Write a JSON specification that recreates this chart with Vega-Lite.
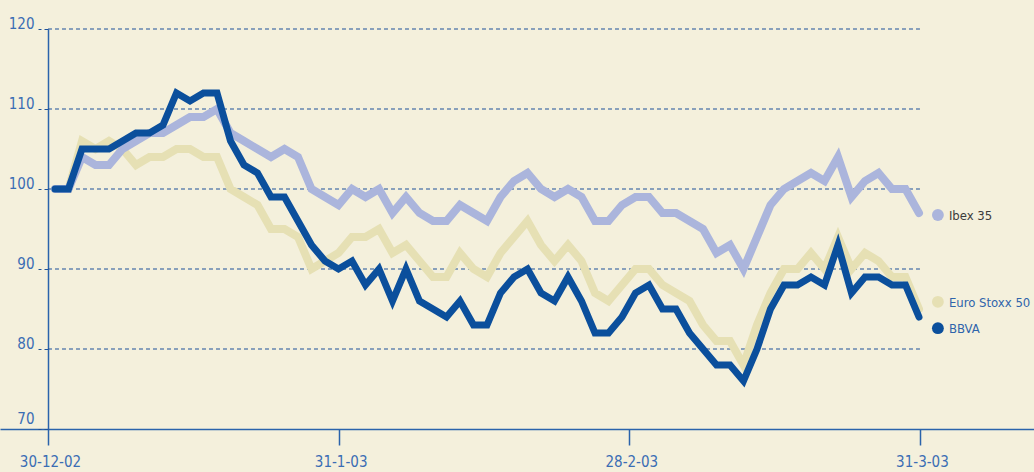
{
  "$schema": "https://vega.github.io/schema/vega-lite/v6.json",
  "width": 1034,
  "height": 400,
  "autosize": {"type": "none"},
  "padding": {"left": 0, "top": 29, "right": 0, "bottom": 43},
  "background": "#f4f0dc",
  "config": {"view": {"stroke": null}, "font": "DejaVu Sans Condensed, sans-serif"},
  "datasets": {
    "series": [
      {"i": 0, "ibex": 100, "euro": 100, "bbva": 100},
      {"i": 1, "ibex": 100, "euro": 100, "bbva": 100},
      {"i": 2, "ibex": 104, "euro": 106, "bbva": 105},
      {"i": 3, "ibex": 103, "euro": 105, "bbva": 105},
      {"i": 4, "ibex": 103, "euro": 106, "bbva": 105},
      {"i": 5, "ibex": 105, "euro": 105, "bbva": 106},
      {"i": 6, "ibex": 106, "euro": 103, "bbva": 107},
      {"i": 7, "ibex": 107, "euro": 104, "bbva": 107},
      {"i": 8, "ibex": 107, "euro": 104, "bbva": 108},
      {"i": 9, "ibex": 108, "euro": 105, "bbva": 112},
      {"i": 10, "ibex": 109, "euro": 105, "bbva": 111},
      {"i": 11, "ibex": 109, "euro": 104, "bbva": 112},
      {"i": 12, "ibex": 110, "euro": 104, "bbva": 112},
      {"i": 13, "ibex": 107, "euro": 100, "bbva": 106},
      {"i": 14, "ibex": 106, "euro": 99, "bbva": 103},
      {"i": 15, "ibex": 105, "euro": 98, "bbva": 102},
      {"i": 16, "ibex": 104, "euro": 95, "bbva": 99},
      {"i": 17, "ibex": 105, "euro": 95, "bbva": 99},
      {"i": 18, "ibex": 104, "euro": 94, "bbva": 96},
      {"i": 19, "ibex": 100, "euro": 90, "bbva": 93},
      {"i": 20, "ibex": 99, "euro": 91, "bbva": 91},
      {"i": 21, "ibex": 98, "euro": 92, "bbva": 90},
      {"i": 22, "ibex": 100, "euro": 94, "bbva": 91},
      {"i": 23, "ibex": 99, "euro": 94, "bbva": 88},
      {"i": 24, "ibex": 100, "euro": 95, "bbva": 90},
      {"i": 25, "ibex": 97, "euro": 92, "bbva": 86},
      {"i": 26, "ibex": 99, "euro": 93, "bbva": 90},
      {"i": 27, "ibex": 97, "euro": 91, "bbva": 86},
      {"i": 28, "ibex": 96, "euro": 89, "bbva": 85},
      {"i": 29, "ibex": 96, "euro": 89, "bbva": 84},
      {"i": 30, "ibex": 98, "euro": 92, "bbva": 86},
      {"i": 31, "ibex": 97, "euro": 90, "bbva": 83},
      {"i": 32, "ibex": 96, "euro": 89, "bbva": 83},
      {"i": 33, "ibex": 99, "euro": 92, "bbva": 87},
      {"i": 34, "ibex": 101, "euro": 94, "bbva": 89},
      {"i": 35, "ibex": 102, "euro": 96, "bbva": 90},
      {"i": 36, "ibex": 100, "euro": 93, "bbva": 87},
      {"i": 37, "ibex": 99, "euro": 91, "bbva": 86},
      {"i": 38, "ibex": 100, "euro": 93, "bbva": 89},
      {"i": 39, "ibex": 99, "euro": 91, "bbva": 86},
      {"i": 40, "ibex": 96, "euro": 87, "bbva": 82},
      {"i": 41, "ibex": 96, "euro": 86, "bbva": 82},
      {"i": 42, "ibex": 98, "euro": 88, "bbva": 84},
      {"i": 43, "ibex": 99, "euro": 90, "bbva": 87},
      {"i": 44, "ibex": 99, "euro": 90, "bbva": 88},
      {"i": 45, "ibex": 97, "euro": 88, "bbva": 85},
      {"i": 46, "ibex": 97, "euro": 87, "bbva": 85},
      {"i": 47, "ibex": 96, "euro": 86, "bbva": 82},
      {"i": 48, "ibex": 95, "euro": 83, "bbva": 80},
      {"i": 49, "ibex": 92, "euro": 81, "bbva": 78},
      {"i": 50, "ibex": 93, "euro": 81, "bbva": 78},
      {"i": 51, "ibex": 90, "euro": 78, "bbva": 76},
      {"i": 52, "ibex": 94, "euro": 83, "bbva": 80},
      {"i": 53, "ibex": 98, "euro": 87, "bbva": 85},
      {"i": 54, "ibex": 100, "euro": 90, "bbva": 88},
      {"i": 55, "ibex": 101, "euro": 90, "bbva": 88},
      {"i": 56, "ibex": 102, "euro": 92, "bbva": 89},
      {"i": 57, "ibex": 101, "euro": 90, "bbva": 88},
      {"i": 58, "ibex": 104, "euro": 94, "bbva": 93},
      {"i": 59, "ibex": 99, "euro": 90, "bbva": 87},
      {"i": 60, "ibex": 101, "euro": 92, "bbva": 89},
      {"i": 61, "ibex": 102, "euro": 91, "bbva": 89},
      {"i": 62, "ibex": 100, "euro": 89, "bbva": 88},
      {"i": 63, "ibex": 100, "euro": 89, "bbva": 88},
      {"i": 64, "ibex": 97, "euro": 85, "bbva": 84}
    ],
    "grid": [{"v": 80}, {"v": 90}, {"v": 100}, {"v": 110}, {"v": 120}],
    "labels": [
      {"series": "ibex", "name": "Ibex 35", "pos": 96.75},
      {"series": "euro", "name": "Euro Stoxx 50", "pos": 85.9},
      {"series": "bbva", "name": "BBVA", "pos": 82.6}
    ]
  },
  "layer": [
    {
      "data": {"name": "grid"},
      "mark": {"type": "rule", "color": "#1d5199", "strokeDash": [4, 3], "strokeWidth": 1.1},
      "encoding": {
        "x": {
          "datum": -0.52, "type": "quantitative",
          "scale": {"domain": [-4.074, 72.519], "nice": false, "zero": false},
          "axis": {
            "values": [-0.52, 21.01, 42.54, 64.07],
            "labelExpr": "datum.value < 10 ? '30-12-02' : datum.value < 30 ? '31-1-03' : datum.value < 50 ? '28-2-03' : '31-3-03'",
            "domainColor": "#2a63ab", "domainWidth": 1.5,
            "tickColor": "#2a63ab", "tickWidth": 1.5, "tickSize": 16,
            "labelColor": "#3a6db4", "labelFontSize": 15, "labelPadding": 9, "labelOffset": 2,
            "labelFlush": false, "labelOverlap": false, "grid": false, "title": null
          }
        },
        "x2": {"datum": 64.07},
        "y": {
          "field": "v", "type": "quantitative",
          "scale": {"domain": [70, 120], "nice": false, "zero": false},
          "axis": {
            "values": [70, 80, 90, 100, 110, 120],
            "offset": -48,
            "domainColor": "#2a63ab", "domainWidth": 1.5,
            "tickColor": "#1d5199", "tickSize": 10, "tickDash": [4, 3], "tickWidth": 1.1,
            "labelColor": "#3a6db4", "labelFontSize": 15, "labelPadding": 4,
            "labelBaseline": "alphabetic",
            "labelOffset": {"condition": {"test": "datum.value == 70", "value": -6}, "value": -1},
            "grid": false, "title": null
          }
        }
      }
    },
    {
      "data": {"name": "series"},
      "mark": {"type": "line", "color": "#e6e0b4", "strokeWidth": 8, "strokeCap": "round", "strokeJoin": "miter"},
      "encoding": {
        "x": {"field": "i", "type": "quantitative", "title": null},
        "y": {"field": "euro", "type": "quantitative", "title": null}
      }
    },
    {
      "data": {"name": "series"},
      "mark": {"type": "line", "color": "#abb5dc", "strokeWidth": 8, "strokeCap": "round", "strokeJoin": "miter"},
      "encoding": {
        "x": {"field": "i", "type": "quantitative", "title": null},
        "y": {"field": "ibex", "type": "quantitative", "title": null}
      }
    },
    {
      "data": {"name": "series"},
      "mark": {"type": "line", "color": "#0b4f9c", "strokeWidth": 7, "strokeCap": "round", "strokeJoin": "miter"},
      "encoding": {
        "x": {"field": "i", "type": "quantitative", "title": null},
        "y": {"field": "bbva", "type": "quantitative", "title": null}
      }
    },
    {
      "data": {"name": "labels"},
      "mark": {"type": "point", "filled": true, "size": 140, "opacity": 1},
      "encoding": {
        "x": {"datum": 65.4, "type": "quantitative"},
        "y": {"field": "pos", "type": "quantitative", "title": null},
        "color": {
          "field": "series", "type": "nominal",
          "scale": {"domain": ["ibex", "euro", "bbva"], "range": ["#abb5dc", "#e6e0b4", "#0b4f9c"]},
          "legend": null
        }
      }
    },
    {
      "data": {"name": "labels"},
      "mark": {"type": "text", "align": "left", "baseline": "alphabetic", "dx": 11, "dy": 5, "fontSize": 13},
      "encoding": {
        "x": {"datum": 65.4, "type": "quantitative"},
        "y": {"field": "pos", "type": "quantitative", "title": null},
        "text": {"field": "name"},
        "color": {"condition": {"test": "datum.series == 'ibex'", "value": "#3b3b3b"}, "value": "#2f64ab"}
      }
    }
  ]
}
